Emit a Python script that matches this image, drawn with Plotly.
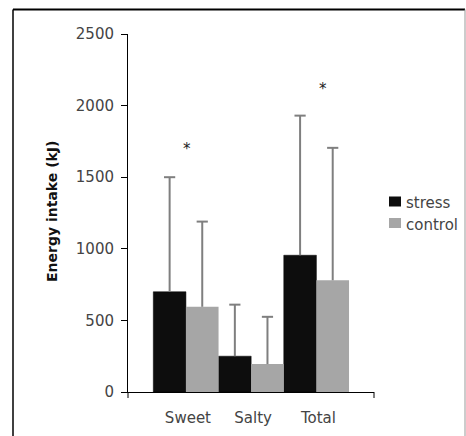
import plotly.graph_objects as go

# Energy intake by snack type, stress vs control sessions
categories = ["Sweet", "Salty", "Total"]
stress_kj = [700, 250, 955]
control_kj = [595, 195, 780]
stress_sd = [800, 360, 975]
control_sd = [595, 330, 925]
y_ticks = [0, 500, 1000, 1500, 2000, 2500]
significant = ["Sweet", "Total"]
star_levels = [1725, 2145]

W, H = 466, 436
L, R, T, B = 128, 92, 34, 44
PW, PH = W - L - R, H - T - B
BAR_W = 0.5  # two bars fill each category slot


def px(x):
    """Page pixel x -> paper coordinate."""
    return (x - L) / PW


def py(y):
    """Page pixel y -> paper coordinate."""
    return (H - B - y) / PH


pos = list(range(len(categories)))

fig = go.Figure()
series = [
    ("stress", stress_kj, stress_sd, "#0d0d0d", -BAR_W / 2),
    ("control", control_kj, control_sd, "#a6a6a6", BAR_W / 2),
]
for name, vals, sds, color, off in series:
    fig.add_trace(go.Bar(
        x=pos, y=vals, name=name, width=BAR_W, offset=off - BAR_W / 2,
        marker=dict(color=color,
                    line=dict(color="#000000", width=0.5 if name == "stress" else 0)),
    ))

# upward-only whiskers (SD) with a cap at the top end
for name, vals, sds, color, off in series:
    wx, wy = [], []
    for p, v, s in zip(pos, vals, sds):
        wx += [p + off, p + off, None]
        wy += [v, v + s, None]
    fig.add_trace(go.Scatter(x=wx, y=wy, mode="lines",
                             line=dict(color="#7f7f7f", width=2),
                             hoverinfo="skip"))
    fig.add_trace(go.Scatter(x=[p + off for p in pos],
                             y=[v + s for v, s in zip(vals, sds)],
                             mode="markers",
                             marker=dict(symbol="line-ew", size=8,
                                         line=dict(color="#7f7f7f", width=2)),
                             hoverinfo="skip"))

annotations = []
shapes = []

# significance markers
for cat, lvl, dx in zip(significant, star_levels, [1, 7]):
    annotations.append(dict(x=categories.index(cat), y=lvl, xref="x", yref="y",
                            text="*", showarrow=False, xshift=dx, yshift=-4,
                            font=dict(size=15, color="#222222")))

# y-axis title
annotations.append(dict(x=px(42), y=py(212), xref="paper", yref="paper",
                        text="<b>Energy intake (kJ)</b>", textangle=-90,
                        showarrow=False,
                        font=dict(size=14, color="#111111")))

# legend
legend_items = [("stress", "#0d0d0d", 201.5), ("control", "#a6a6a6", 223)]
for label, color, yc in legend_items:
    shapes.append(dict(type="rect", xref="paper", yref="paper",
                       x0=px(389), x1=px(401), y0=py(yc + 5), y1=py(yc - 5),
                       fillcolor=color, line=dict(width=0)))
    annotations.append(dict(x=px(404), y=py(yc + 1.5), xref="paper", yref="paper",
                            text=label, showarrow=False, xanchor="left",
                            font=dict(size=15, color="#444444")))

# end ticks on the category axis
for xe in (0, 1):
    shapes.append(dict(type="line", xref="paper", yref="paper",
                       x0=xe, x1=xe, y0=0, y1=-6 / PH,
                       line=dict(color="#000000", width=1)))

# outer frame
shapes.append(dict(type="line", xref="paper", yref="paper",
                   x0=px(13), x1=px(465), y0=py(9.5), y1=py(9.5),
                   line=dict(color="#000000", width=2)))
shapes.append(dict(type="line", xref="paper", yref="paper",
                   x0=px(13), x1=px(13), y0=py(9.5), y1=py(450),
                   line=dict(color="#000000", width=1.5)))
shapes.append(dict(type="line", xref="paper", yref="paper",
                   x0=px(465), x1=px(465), y0=py(9.5), y1=py(450),
                   line=dict(color="#999999", width=1)))

fig.update_layout(
    width=W, height=H,
    margin=dict(l=L, r=R, t=T, b=B, pad=0),
    paper_bgcolor="white", plot_bgcolor="white",
    barmode="overlay",
    showlegend=False,
    font=dict(family="DejaVu Sans", size=15, color="#444444"),
    annotations=annotations, shapes=shapes,
)
fig.update_xaxes(
    range=[-0.888, 2.883], tickvals=pos, ticktext=categories,
    showline=True, linecolor="#000000", linewidth=1,
    ticks="", showgrid=False, zeroline=False, automargin=False,
    tickfont=dict(size=15, color="#444444"), ticklabelstandoff=12,
    ticklabelshift=2,
)
fig.update_yaxes(
    range=[0, 2500], tickvals=y_ticks, showline=True, linecolor="#000000",
    linewidth=1, ticks="outside", ticklen=6, tickcolor="#000000",
    showgrid=False, zeroline=False, automargin=False,
    tickfont=dict(size=15, color="#444444"), ticklabelstandoff=4,
)

fig.write_html("out.html")
